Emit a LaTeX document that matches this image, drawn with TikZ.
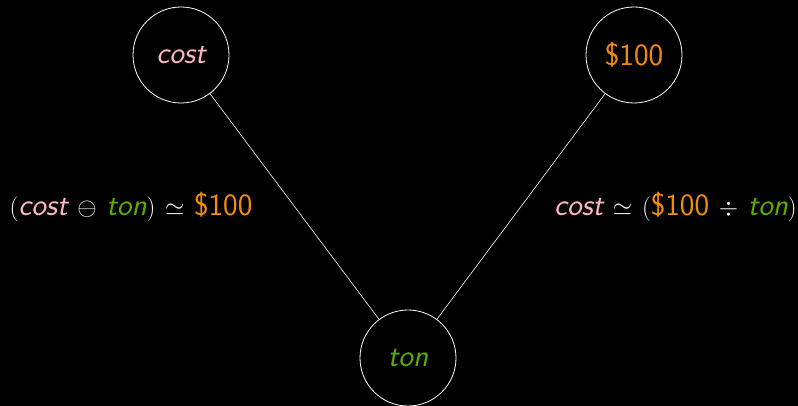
\documentclass[tikz,border=0pt]{standalone}
\usepackage{tikz}
\definecolor{cpink}{RGB}{255,182,193}
\definecolor{corange}{RGB}{240,140,10}
\definecolor{cgreen}{RGB}{90,170,0}
\begin{document}
\begin{tikzpicture}[x=1pt,y=1pt,
  every node/.style={font=\sffamily\fontsize{31}{37}\selectfont, text=white},
  vert/.style={circle, draw=white, line width=0.8pt, minimum size=96pt, inner sep=0pt},
  edge/.style={draw=white, line width=0.6pt}]
\fill[black] (0,0) rectangle (798,406);
\useasboundingbox (0,0) rectangle (798,406);
\node[vert] (cost) at (181,351) {\textcolor{cpink}{\itshape cost}};
\node[vert] (dollar) at (634,351) {\textcolor{corange}{\$100}};
\node[vert] (ton) at (408,48) {\textcolor{cgreen}{\itshape ton}};
\draw[edge] (cost) -- (ton);
\draw[edge] (dollar) -- (ton);
\node (lbl) at (131,199) {$($\textcolor{cpink}{\itshape cost} $\ominus$ \textcolor{cgreen}{\itshape ton}$)$ $\simeq$ \textcolor{corange}{\$100}};
\node[anchor=east, inner xsep=0pt] (rbl) at (797,199) {\textcolor{cpink}{\itshape cost} $\simeq$ $($\textcolor{corange}{\$100} $\div$ \textcolor{cgreen}{\itshape ton}$)$};
\end{tikzpicture}
\end{document}
